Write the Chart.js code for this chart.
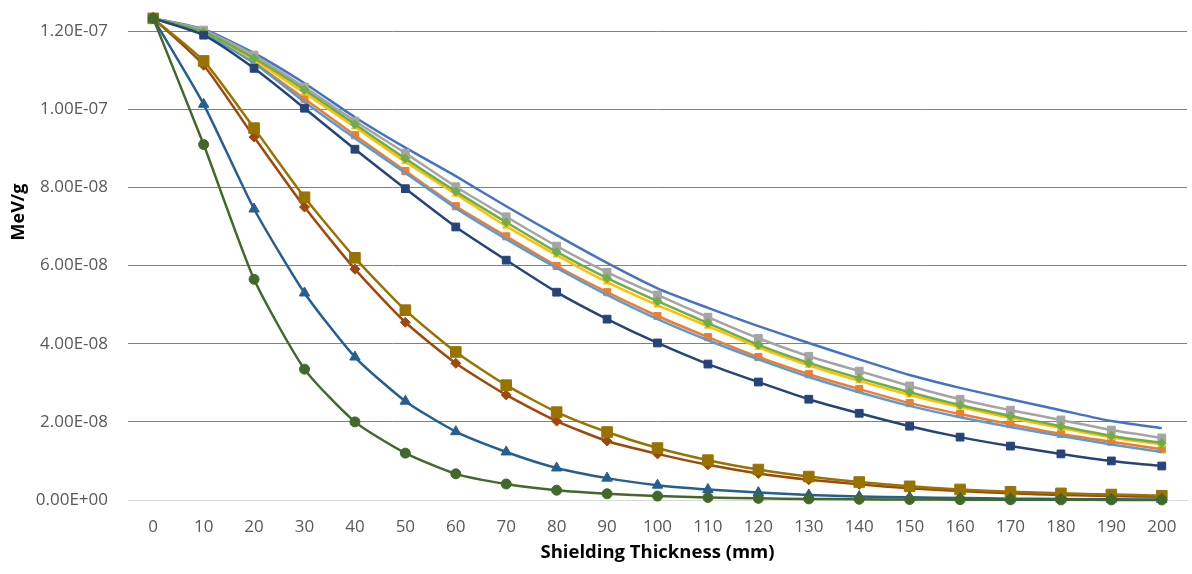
<!DOCTYPE html>
<html>
<head>
<meta charset="utf-8">
<script src="https://cdn.jsdelivr.net/npm/chart.js@4"></script>
<style>
  html, body { margin: 0; padding: 0; background: #fff; }
  #wrap { width: 1192px; height: 574px; }
</style>
</head>
<body>
<div id="wrap"><canvas id="myChart"></canvas></div>
<script>
const thickness = ['0', '10', '20', '30', '40', '50', '60', '70', '80', '90', '100',
    '110', '120', '130', '140', '150', '160', '170', '180', '190', '200'];

const yTicks = [0, 2e-8, 4e-8, 6e-8, 8e-8, 1e-7, 1.2e-7];

const blueLine = [1.233e-7, 1.205e-7, 1.144e-7, 1.067e-7, 9.80e-8, 9.02e-8, 8.29e-8, 7.52e-8, 6.78e-8, 6.07e-8, 5.42e-8,
    4.92e-8, 4.45e-8, 4.02e-8, 3.60e-8, 3.20e-8, 2.87e-8, 2.58e-8, 2.30e-8, 2.02e-8, 1.84e-8];
const orangeSq = [1.233e-7, 1.195e-7, 1.120e-7, 1.027e-7, 9.34e-8, 8.42e-8, 7.52e-8, 6.75e-8, 5.99e-8, 5.32e-8, 4.71e-8,
    4.17e-8, 3.66e-8, 3.22e-8, 2.84e-8, 2.48e-8, 2.20e-8, 1.94e-8, 1.69e-8, 1.49e-8, 1.30e-8];
const graySq = [1.233e-7, 1.203e-7, 1.139e-7, 1.057e-7, 9.70e-8, 8.88e-8, 8.02e-8, 7.25e-8, 6.50e-8, 5.83e-8, 5.25e-8,
    4.68e-8, 4.14e-8, 3.68e-8, 3.30e-8, 2.92e-8, 2.58e-8, 2.30e-8, 2.05e-8, 1.79e-8, 1.59e-8];
const yellowTri = [1.233e-7, 1.196e-7, 1.126e-7, 1.042e-7, 9.55e-8, 8.66e-8, 7.83e-8, 7.01e-8, 6.27e-8, 5.58e-8, 4.99e-8,
    4.45e-8, 3.91e-8, 3.45e-8, 3.05e-8, 2.69e-8, 2.38e-8, 2.10e-8, 1.84e-8, 1.60e-8, 1.42e-8];
const lightBlue = [1.233e-7, 1.193e-7, 1.118e-7, 1.019e-7, 9.26e-8, 8.37e-8, 7.47e-8, 6.68e-8, 5.94e-8, 5.25e-8, 4.63e-8,
    4.09e-8, 3.60e-8, 3.15e-8, 2.76e-8, 2.41e-8, 2.12e-8, 1.87e-8, 1.64e-8, 1.42e-8, 1.23e-8];
const greenDia = [1.233e-7, 1.198e-7, 1.131e-7, 1.050e-7, 9.62e-8, 8.74e-8, 7.90e-8, 7.11e-8, 6.35e-8, 5.68e-8, 5.09e-8,
    4.53e-8, 3.97e-8, 3.51e-8, 3.12e-8, 2.76e-8, 2.43e-8, 2.15e-8, 1.89e-8, 1.64e-8, 1.46e-8];
const navySq = [1.233e-7, 1.190e-7, 1.105e-7, 1.003e-7, 8.98e-8, 7.97e-8, 6.99e-8, 6.14e-8, 5.32e-8, 4.63e-8, 4.02e-8,
    3.48e-8, 3.02e-8, 2.58e-8, 2.22e-8, 1.89e-8, 1.61e-8, 1.38e-8, 1.18e-8, 1.00e-8, 8.7e-9];
const brownDia = [1.233e-7, 1.113e-7, 9.29e-8, 7.50e-8, 5.91e-8, 4.55e-8, 3.50e-8, 2.69e-8, 2.02e-8, 1.51e-8, 1.18e-8,
    9.0e-9, 6.8e-9, 5.2e-9, 4.0e-9, 3.0e-9, 2.3e-9, 1.7e-9, 1.3e-9, 1.0e-9, 8.0e-10];
const oliveSq = [1.233e-7, 1.124e-7, 9.52e-8, 7.75e-8, 6.20e-8, 4.86e-8, 3.79e-8, 2.94e-8, 2.25e-8, 1.74e-8, 1.33e-8,
    1.02e-8, 7.8e-9, 6.0e-9, 4.6e-9, 3.5e-9, 2.7e-9, 2.1e-9, 1.7e-9, 1.4e-9, 1.1e-9];
const blueTri = [1.233e-7, 1.013e-7, 7.45e-8, 5.30e-8, 3.66e-8, 2.53e-8, 1.75e-8, 1.23e-8, 8.2e-9, 5.6e-9, 3.8e-9,
    2.7e-9, 1.9e-9, 1.3e-9, 9.0e-10, 7.0e-10, 5.0e-10, 3.5e-10, 2.5e-10, 1.8e-10, 1.3e-10];
const greenCirc = [1.233e-7, 9.10e-8, 5.65e-8, 3.35e-8, 2.00e-8, 1.20e-8, 6.7e-9, 4.1e-9, 2.5e-9, 1.6e-9, 1.0e-9,
    6.5e-10, 4.2e-10, 2.8e-10, 1.9e-10, 1.3e-10, 9.0e-11, 6.0e-11, 4.0e-11, 3.0e-11, 2.0e-11];

const seriesList = [
    { label: 'Series 1', data: blueLine, color: '#4472C4', style: 'circle', r: 0 },
    { label: 'Series 2', data: orangeSq, color: '#ED7D31', style: 'rect', r: 5 },
    { label: 'Series 3', data: graySq, color: '#A5A5A5', style: 'rect', r: 5.5 },
    { label: 'Series 4', data: yellowTri, color: '#FFC000', style: 'triangle', r: 4 },
    { label: 'Series 5', data: lightBlue, color: '#5B9BD5', style: 'circle', r: 0 },
    { label: 'Series 6', data: greenDia, color: '#70AD47', style: 'rectRot', r: 4.5 },
    { label: 'Series 7', data: navySq, color: '#264478', style: 'rect', r: 5.5 },
    { label: 'Series 8', data: brownDia, color: '#9E480E', style: 'rectRot', r: 5 },
    { label: 'Series 9', data: oliveSq, color: '#997300', style: 'rect', r: 7.5 },
    { label: 'Series 10', data: blueTri, color: '#255E91', style: 'triangle', r: 6 },
    { label: 'Series 11', data: greenCirc, color: '#43682B', style: 'circle', r: 5 }
];

const datasets = seriesList.map((s, i) => ({
    label: s.label,
    data: s.data,
    borderColor: s.color,
    backgroundColor: s.color,
    borderWidth: 2.5,
    pointStyle: s.style,
    pointRadius: s.r,
    pointBorderWidth: 1,
    pointHoverRadius: s.r,
    tension: 0.2,
    fill: false,
    clip: false,
    order: seriesList.length - i
}));

// y axis label drawn by hand so it sits where the original had it
const yTitle = {
    id: 'yTitle',
    afterDraw(chart) {
        const c = chart.ctx;
        c.save();
        c.translate(19, 212);
        c.rotate(-Math.PI / 2);
        c.font = 'bold 18px "Open Sans", sans-serif';
        c.fillStyle = '#000';
        c.textAlign = 'center';
        c.textBaseline = 'middle';
        c.fillText('MeV/g', 0, 0);
        c.restore();
    }
};

const ctx = document.getElementById('myChart').getContext('2d');
new Chart(ctx, {
    type: 'line',
    data: { labels: thickness, datasets: datasets },
    options: {
        responsive: true,
        maintainAspectRatio: false,
        animation: false,
        layout: { autoPadding: false, padding: { top: 0, right: 5, bottom: 0, left: 0 } },
        plugins: {
            legend: { display: false },
            tooltip: { enabled: false }
        },
        scales: {
            x: {
                offset: true,
                grid: { display: false, drawTicks: false },
                border: { display: true, color: '#d9d9d9', width: 1 },
                ticks: {
                    color: '#595959',
                    padding: 17,
                    maxRotation: 0,
                    autoSkip: false,
                    font: { family: '"Open Sans", sans-serif', size: 17 }
                },
                title: {
                    display: true,
                    text: 'Shielding Thickness (mm)',
                    color: '#000',
                    padding: { top: 2, bottom: 10 },
                    font: { family: '"Open Sans", sans-serif', size: 18.5, weight: 'bold' }
                },
                afterFit: (scale) => { scale.height = 74; scale.paddingLeft = 0; scale.paddingRight = 0; }
            },
            y: {
                min: 0,
                max: 1.28e-7,
                grid: {
                    drawTicks: false,
                    color: (c) => c.tick && c.tick.value === 0 ? '#d9d9d9' : '#808080',
                    lineWidth: 1
                },
                border: { display: false },
                afterBuildTicks: (scale) => { scale.ticks = yTicks.map(v => ({ value: v })); },
                ticks: {
                    color: '#595959',
                    padding: 20,
                    font: { family: '"Open Sans", sans-serif', size: 17 },
                    callback: (v) => {
                        const s = Number(v).toExponential(2).toUpperCase();
                        const m = s.split('E');
                        const e = parseInt(m[1], 10);
                        const sign = e < 0 ? '-' : '+';
                        return m[0] + 'E' + sign + String(Math.abs(e)).padStart(2, '0');
                    }
                },
                afterFit: (scale) => { scale.width = 128; scale.paddingTop = 0; scale.paddingBottom = 0; }
            }
        }
    },
    plugins: [yTitle]
});
</script>
</body>
</html>
